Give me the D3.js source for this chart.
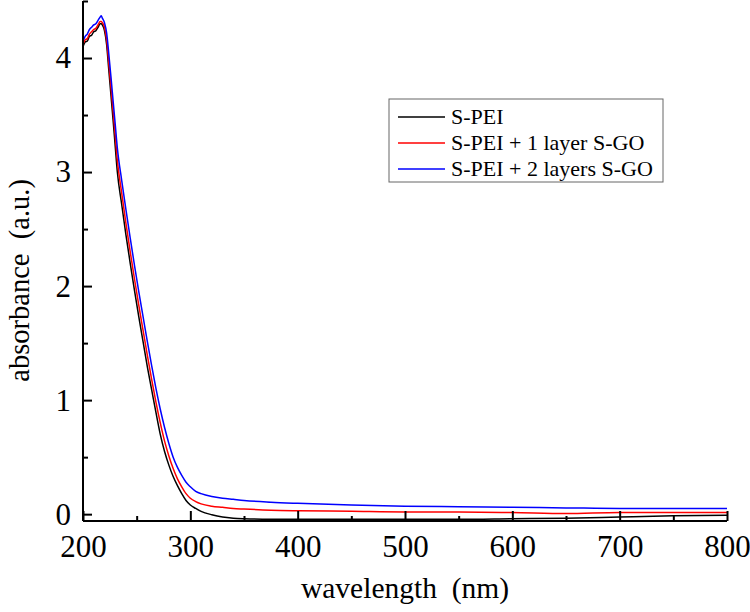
<!DOCTYPE html>
<html>
<head>
<meta charset="utf-8">
<script src="https://cdn.jsdelivr.net/npm/d3@7"></script>
<style>
  body { margin: 0; background: #fff; }
  svg text { font-family: "Liberation Serif", "Times New Roman", serif; fill: #000; white-space: pre; }
</style>
</head>
<body>
<svg id="chart" width="750" height="612"></svg>
<script>
const wavelength = [200, 202, 204, 206, 208, 210, 212, 214, 216, 217, 218, 220, 222, 224, 226, 228, 230, 232, 236, 240, 244, 248, 252, 256, 260, 264, 268, 272, 276, 280, 284, 288, 292, 296, 300, 305, 310, 320, 330, 340, 350, 375, 400, 450, 500, 550, 600, 650, 700, 750, 800];

const sPei = [4.10, 4.14, 4.15, 4.19, 4.20, 4.23, 4.24, 4.27, 4.30, 4.30, 4.29, 4.24, 4.12, 3.90, 3.68, 3.46, 3.23, 3.00, 2.72, 2.45, 2.20, 1.96, 1.73, 1.51, 1.29, 1.09, 0.89, 0.70, 0.55, 0.43, 0.33, 0.25, 0.18, 0.12, 0.08, 0.05, 0.025, -0.005, -0.025, -0.035, -0.04, -0.045, -0.045, -0.045, -0.045, -0.045, -0.04, -0.035, -0.025, -0.015, -0.01];

const sPei1Layer = [4.12, 4.16, 4.17, 4.21, 4.23, 4.25, 4.26, 4.29, 4.32, 4.32, 4.31, 4.27, 4.16, 3.96, 3.75, 3.54, 3.32, 3.10, 2.82, 2.55, 2.30, 2.06, 1.83, 1.61, 1.39, 1.18, 0.98, 0.80, 0.64, 0.51, 0.40, 0.31, 0.24, 0.18, 0.14, 0.11, 0.09, 0.07, 0.06, 0.05, 0.045, 0.035, 0.03, 0.025, 0.02, 0.02, 0.015, 0.005, 0.015, 0.015, 0.015];

const sPei2Layers = [4.15, 4.19, 4.21, 4.25, 4.27, 4.29, 4.30, 4.33, 4.36, 4.37, 4.35, 4.31, 4.22, 4.04, 3.84, 3.63, 3.42, 3.21, 2.93, 2.67, 2.42, 2.18, 1.95, 1.73, 1.51, 1.30, 1.10, 0.92, 0.76, 0.62, 0.50, 0.41, 0.34, 0.28, 0.24, 0.20, 0.18, 0.155, 0.14, 0.13, 0.12, 0.105, 0.095, 0.08, 0.07, 0.065, 0.06, 0.055, 0.05, 0.05, 0.05];

const seriesNames = ["S-PEI", "S-PEI + 1 layer S-GO", "S-PEI + 2 layers S-GO"];
const seriesColors = ["#000000", "#ff0000", "#0000ff"];
const seriesValues = [sPei, sPei1Layer, sPei2Layers];

const xTicks = [200, 300, 400, 500, 600, 700, 800];
const yTicks = [0, 1, 2, 3, 4];

const svg = d3.select("#chart");
const margin = { left: 83, right: 23, top: 1, bottom: 91 };
const width = 750, height = 612;

const x = d3.scaleLinear().domain([200, 800]).range([margin.left, width - margin.right]);
const y = d3.scaleLinear().domain([-0.06, 4.5]).range([height - margin.bottom, margin.top]);

// curves
const line = d3.line()
  .x((d) => x(d[0]))
  .y((d) => y(d[1]))
  .curve(d3.curveMonotoneX);

seriesValues.forEach((vals, i) => {
  svg.append("path")
    .datum(wavelength.map((w, j) => [w, vals[j]]))
    .attr("fill", "none")
    .attr("stroke", seriesColors[i])
    .attr("stroke-width", 1.5)
    .attr("d", line);
});

// axes, ticks pointing inward
const xMinor = d3.range(250, 800, 100);
const yMinor = [0.5, 1.5, 2.5, 3.5, 4.5];

const gx = svg.append("g").attr("transform", `translate(0,${height - margin.bottom})`);
gx.call(d3.axisBottom(x).tickValues(xTicks).tickSize(-10).tickPadding(14).tickFormat(d3.format("d")));
gx.append("g").call(d3.axisBottom(x).tickValues(xMinor).tickSize(-5).tickFormat(""));

const gy = svg.append("g").attr("transform", `translate(${margin.left},0)`);
gy.call(d3.axisLeft(y).tickValues(yTicks).tickSize(-9).tickPadding(12).tickFormat(d3.format("d")));
gy.append("g").call(d3.axisLeft(y).tickValues(yMinor).tickSize(-5).tickFormat(""));

svg.selectAll(".domain").attr("stroke", "#000").attr("stroke-width", 2);
svg.selectAll(".tick line").attr("stroke", "#000").attr("stroke-width", 2);
svg.selectAll(".tick text").style("font-size", "31px").style("font-family", "Liberation Serif");
gx.selectAll(".domain").attr("d", `M${x(200)},0H${x(800)}`);
gy.selectAll(".domain").attr("d", `M0,${y(4.5)}V${y(-0.06)}`);

// axis titles
svg.append("text")
  .attr("x", (x(200) + x(800)) / 2)
  .attr("y", 598)
  .attr("text-anchor", "middle")
  .style("font-size", "29.5px")
  .text("wavelength  (nm)");

svg.append("text")
  .attr("transform", `translate(29,${y(2.05)}) rotate(-90)`)
  .attr("text-anchor", "middle")
  .style("font-size", "28.5px")
  .text("absorbance  (a.u.)");

// legend
const legend = svg.append("g").attr("transform", "translate(389,99)");
legend.append("rect")
  .attr("width", 274).attr("height", 83)
  .attr("fill", "#fff").attr("stroke", "#666").attr("stroke-width", 1);
seriesNames.forEach((name, i) => {
  const ly = 18 + i * 26;
  legend.append("line")
    .attr("x1", 9).attr("x2", 56).attr("y1", ly).attr("y2", ly)
    .attr("stroke", seriesColors[i]).attr("stroke-width", 1.5);
  legend.append("text")
    .attr("x", 62).attr("y", ly + 7)
    .style("font-size", "22px")
    .text(name);
});
</script>
</body>
</html>
